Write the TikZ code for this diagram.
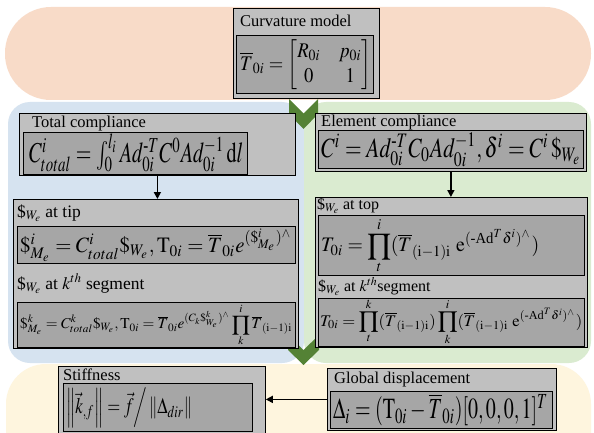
\documentclass[tikz,border=0pt]{standalone}
\usepackage{amsmath}
\usepackage{mathptmx}
\usepackage{graphicx}
\usepackage{fontspec}
\setmainfont{Liberation Serif}
\newfontfamily\ttlfont{Liberation Serif}
\usetikzlibrary{arrows.meta}
\definecolor{peachbg}{HTML}{F8DBC8}
\definecolor{bluebg}{HTML}{D6E3F0}
\definecolor{greenbg}{HTML}{DAEBD0}
\definecolor{yellowbg}{HTML}{FEF5DE}
\definecolor{chevgreen}{HTML}{548235}
\definecolor{boxgray}{HTML}{C0C0C0}
\definecolor{innergray}{HTML}{A6A6A6}
\tikzset{
  outerbox/.style={draw=black, fill=boxgray, line width=0.8pt, inner sep=0pt, anchor=north west},
  innerbox/.style={draw=black, fill=innergray, line width=1.2pt, inner sep=0pt, anchor=north west},
  ttl/.style={font=\ttlfont\fontsize{16.5}{18}\selectfont, inner sep=0pt, anchor=base west},
  ttlb/.style={font=\ttlfont\fontsize{17.5}{19}\selectfont, inner sep=0pt, anchor=base west},
  ttlc/.style={font=\ttlfont\fontsize{16}{18}\selectfont, inner sep=0pt, anchor=base west},
  fm/.style={inner sep=0pt, anchor=west},
  arr/.style={line width=1.6pt, -{Triangle[length=7pt,width=7pt]}},
  chev/.style={fill=chevgreen}
}
\begin{document}
\begin{tikzpicture}[x=1pt,y=-1pt]
\clip (0,0) rectangle (594,433);
\fill[white] (0,0) rectangle (594,433);
% background regions
\fill[peachbg, rounded corners=46] (5,7) rectangle (591,100);
\fill[bluebg, rounded corners=22] (8,102) rectangle (304,363);
\fill[greenbg, rounded corners=22] (304,102) rectangle (591,363);
\fill[yellowbg, rounded corners=40] (6,364) rectangle (591,490);
% chevrons
\fill[chev] (289,99) -- (303.5,113.5) -- (318,99) -- (318,114) -- (303.5,129) -- (289,114) -- cycle;
\fill[chev] (288,335) -- (303.5,350) -- (319,335) -- (319,350) -- (303.5,365) -- (288,350) -- cycle;
% curvature model
\node[outerbox, minimum width=146pt, minimum height=90pt] (curv) at (233,8) {};
\node[ttl] (curvt) at (240,27) {Curvature model};
\node[innerbox, minimum width=137pt, minimum height=58pt] (curvi) at (236,35) {};
\node[fm] (curvf) at (240,65) {\resizebox*{131pt}{50pt}{$\overline{T}_{0i}=\begin{bmatrix} R_{0i} & p_{0i}\\ 0 & 1\end{bmatrix}$}};
% total compliance
\node[outerbox, minimum width=276pt, minimum height=62pt] (tc) at (19,113) {};
\node[ttl] (tct) at (32,128) {Total compliance};
\node[innerbox, minimum width=224pt, minimum height=42pt] (tci) at (23,132) {};
\node[fm] (tcf) at (29,153) {\resizebox*{214pt}{38pt}{$C_{total}^{i}=\int_{0}^{l_i} Ad_{0i}^{\text{-}T}C^{0}Ad_{0i}^{-1}\,\mathrm{d}l$}};
% element compliance
\node[outerbox, minimum width=271pt, minimum height=58pt] (ec) at (315,113) {};
\node[ttl] (ect) at (321,127) {Element compliance};
\node[innerbox, minimum width=265pt, minimum height=38pt] (eci) at (318,130) {};
\node[fm] (ecf) at (321,149.5) {\resizebox*{260pt}{34pt}{$C^{i}=Ad_{0i}^{\text{-}T}C_{0}Ad_{0i}^{-1},\delta^{i}=C^{i}\,\$_{W_e}$}};
% left lower box
\node[outerbox, minimum width=285pt, minimum height=149pt] (tip) at (13,199) {};
\node[ttlb] (tipt) at (17,217) {\$$_{W_e}$ at tip};
\node[innerbox, minimum width=278pt, minimum height=37pt] (tipi) at (17,226) {};
\node[fm] (tipf) at (20,245) {\resizebox*{272pt}{33pt}{$\$^{i}_{M_e}=C^{i}_{total}\$_{W_e},\mathrm{T}_{0i}=\overline{T}_{0i}e^{(\$^{i}_{M_e})^{\wedge}}$}};
\node[ttlb] (tipk) at (17,289) {\$$_{W_e}$ at $k^{th}$ segment};
\node[innerbox, minimum width=278pt, minimum height=45pt] (tipj) at (17,302) {};
\node[fm] (tipg) at (20,325) {\resizebox*{272pt}{42pt}{$\displaystyle\$^{k}_{M_e}=C^{k}_{total}\$_{W_e},\mathrm{T}_{0i}=\overline{T}_{0i}e^{(C_k\$^{k}_{W_e})^{\wedge}}\prod_{k}^{i}\overline{T}_{(\mathrm{i-1})\mathrm{i}}$}};
% right lower box
\node[outerbox, minimum width=272pt, minimum height=150pt] (top) at (315,197) {};
\node[ttlc] (topt) at (317,209) {\$$_{W_e}$ at top};
\node[innerbox, minimum width=266pt, minimum height=60pt] (topi) at (318,215) {};
\node[fm] (topf) at (321,246) {\resizebox*{218pt}{56pt}{$\displaystyle T_{0i}=\prod_{t}^{i}(\overline{T}_{(\mathrm{i}-1)\mathrm{i}}\ \mathrm{e}^{(\text{-Ad}^{T}\delta^{i})^{\wedge}})$}};
\node[ttlc] (topk) at (318,291) {\$$_{W_e}$ at $k^{th}$segment};
\node[innerbox, minimum width=266pt, minimum height=48pt] (topj) at (318,298) {};
\node[fm] (topg) at (320,322) {\resizebox*{262pt}{46pt}{$\displaystyle T_{0i}=\prod_{t}^{k}(\overline{T}_{(\mathrm{i}-1)\mathrm{i}})\prod_{k}^{i}(\overline{T}_{(\mathrm{i}-1)\mathrm{i}}\ \mathrm{e}^{(\text{-Ad}^{T}\delta^{i})^{\wedge}})$}};
% stiffness
\node[outerbox, minimum width=207pt, minimum height=70pt] (st) at (58,366) {};
\node[ttl] (stt) at (63,380) {Stiffness};
\node[innerbox, minimum width=189pt, minimum height=48pt] (sti) at (63,383) {};
\node[fm] (stf) at (66,408) {\resizebox*{126pt}{40pt}{$\left\|\vec{k}_{,f}\right\|=\vec{f}\Big/\left\|\Delta_{dir}\right\|$}};
% global displacement
\node[outerbox, minimum width=229pt, minimum height=62pt] (gd) at (327,368) {};
\node[ttl] (gdt) at (334,383) {Global displacement};
\node[innerbox, minimum width=222pt, minimum height=37pt] (gdi) at (330,391) {};
\node[fm] (gdf) at (333,410) {\resizebox*{215pt}{32pt}{$\Delta_{i}=(\mathrm{T}_{0i}-\overline{T}_{0i})[0,0,0,1]^{T}$}};
% arrows
\draw[arr] (tc.south) -- (tc.south |- tip.north);
\draw[arr] (ec.south) -- (ec.south |- top.north);
\draw[arr] (gd.west) -- (gd.west -| st.east);
\end{tikzpicture}
\end{document}
